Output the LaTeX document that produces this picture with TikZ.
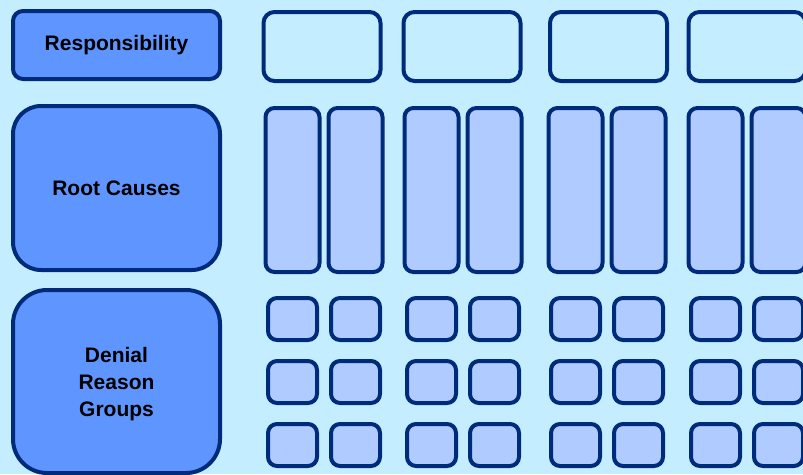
\documentclass[tikz,border=0pt]{standalone}
\usepackage{fontspec}
\setmainfont{Liberation Sans}
\usetikzlibrary{positioning}
\definecolor{gridBg}{HTML}{C4EEFF}
\definecolor{labelBlue}{HTML}{5F95FF}
\definecolor{cellBlue}{HTML}{B0CBFF}
\definecolor{edgeNavy}{HTML}{002B7A}
\tikzset{
  rowlabel/.style={draw=edgeNavy, fill=labelBlue, line width=4pt, minimum width=207pt,
    align=center, text=black, font=\fontsize{21}{27}\selectfont\bfseries},
  rowtext/.style={align=center, text=black, font=\fontsize{21}{27}\selectfont\bfseries},
  respcell/.style={draw=edgeNavy, line width=4pt, rounded corners=11pt,
    minimum width=117pt, minimum height=69pt},
  causecell/.style={draw=edgeNavy, fill=cellBlue, line width=4pt, rounded corners=9pt,
    minimum width=54pt, minimum height=164pt},
  groupcell/.style={draw=edgeNavy, fill=cellBlue, line width=4pt, rounded corners=9pt,
    minimum width=49pt, minimum height=42pt}
}
\begin{document}
\begin{tikzpicture}[x=1pt, y=-1pt]
    \fill[gridBg] (0,0) rectangle (803,474);
    \useasboundingbox (0,0) rectangle (803,474);
    \clip (0,0) rectangle (803,474);
    % row labels
    \node[rowlabel, minimum height=68pt, rounded corners=10pt] (resp) at (116.5,45) {\raisebox{-2pt}{Responsibility}};
    \node[rowlabel, minimum height=164pt, rounded corners=28pt] (root) at (116.5,188) {Root Causes};
    \node[rowlabel, minimum height=183pt, rounded corners=34pt,
      label={[rowtext, yshift=-3pt]center:Denial\\Reason\\Groups}] (denial) at (116.5,381.5) {};
    % columns
    \foreach \gx/\tx [count=\g] in {324/322, 463/462, 607/608.5, 747/747}{
      \node[respcell] (resp-\g) at (\tx,46.5) {};
      \foreach \dx/\s in {-31.5/a, 31.5/b}{
        \node[causecell] (cause-\g\s) at (\gx+\dx,190) {};
        \foreach \gy [count=\r] in {319,382,445}
          \node[groupcell] (group-\g\s\r) at (\gx+\dx,\gy) {};
      }
    }
  \end{tikzpicture}
\end{document}
